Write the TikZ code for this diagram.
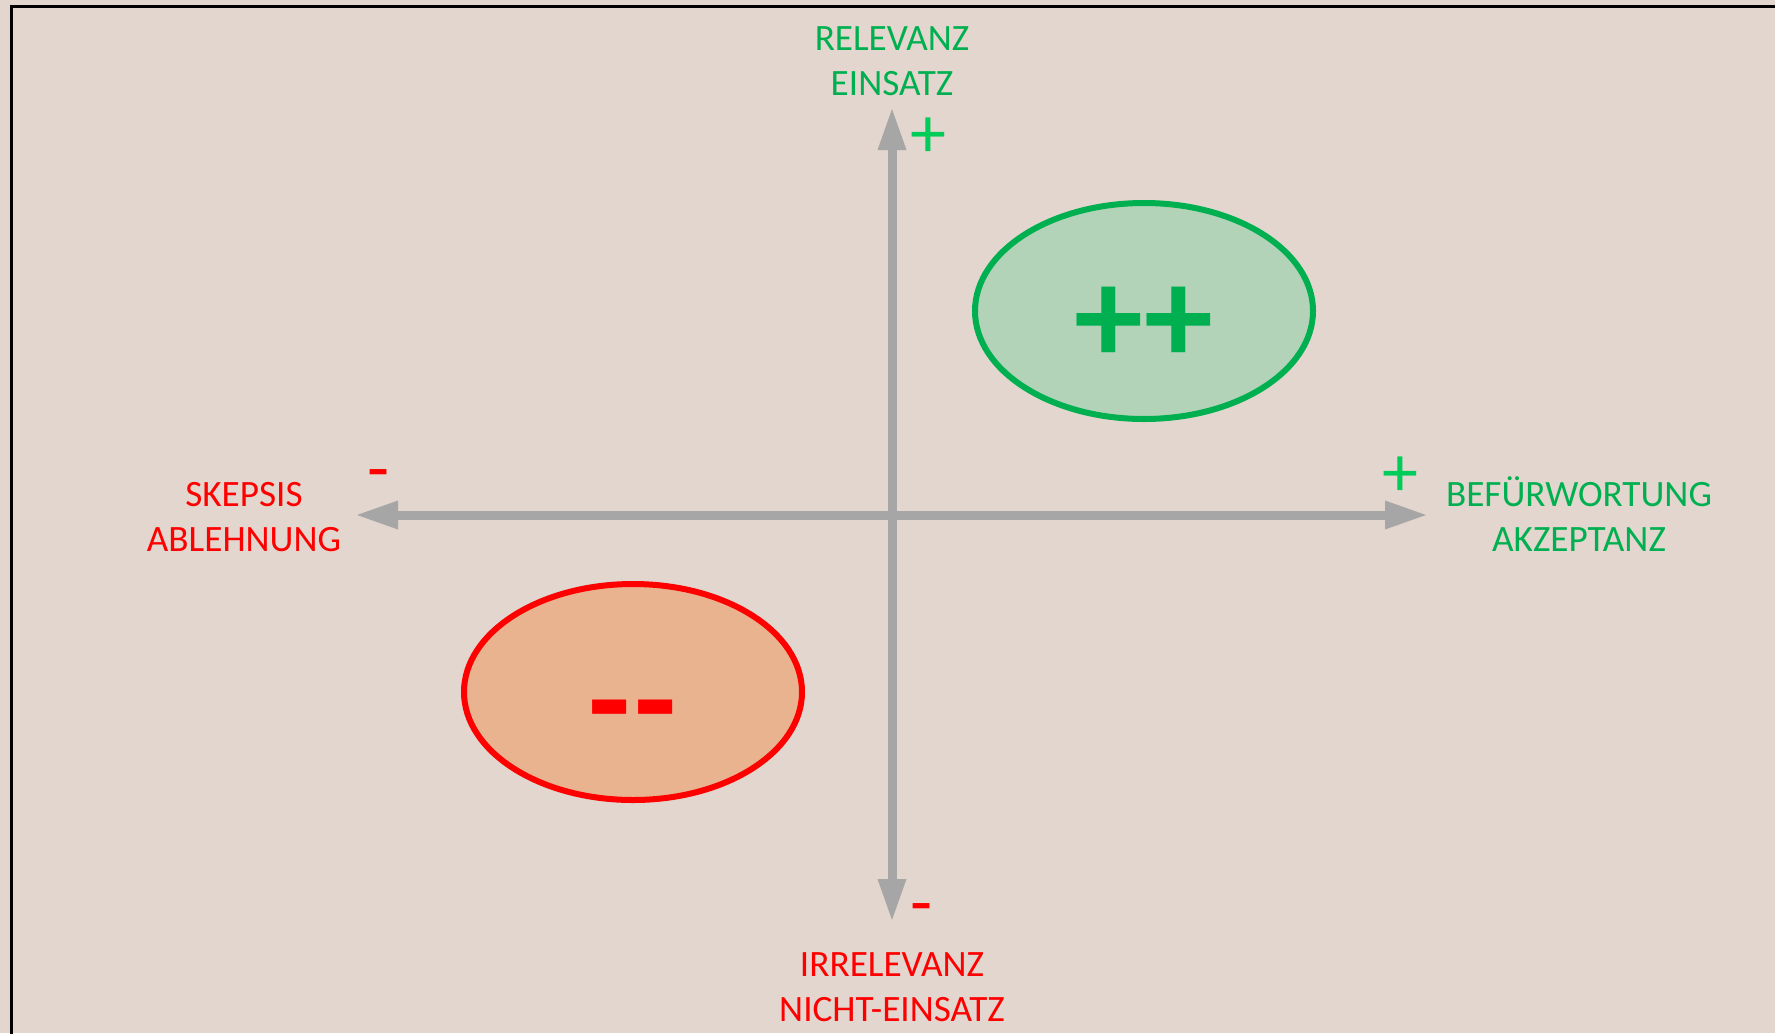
\documentclass[tikz,border=0pt]{standalone}
\usepackage{fontspec}
\setmainfont{Carlito}
\usetikzlibrary{arrows.meta,shapes.geometric}
\definecolor{bg}{RGB}{226,214,206}
\definecolor{txtgreen}{RGB}{0,176,80}
\definecolor{signgreen}{RGB}{0,204,90}
\definecolor{axisgray}{RGB}{166,166,166}
\definecolor{greenfill}{RGB}{179,211,185}
\definecolor{redfill}{RGB}{234,179,143}
\definecolor{myred}{RGB}{255,0,0}
\begin{document}
\begin{tikzpicture}[x=0.5pt,y=-0.5pt,
  lbl/.style={align=center,font=\fontsize{18.6pt}{22.3pt}\selectfont, inner sep=0pt},
  sign/.style={font=\fontsize{36pt}{36pt}\selectfont, inner sep=0pt},
  bigsign/.style={font=\bfseries\fontsize{69pt}{69pt}\selectfont, inner sep=0pt},
  axis/.style={draw=axisgray, line width=4.5pt, {Triangle[length=21.5pt,width=13pt]}-{Triangle[length=21.5pt,width=13pt]}},
  zone/.style={ellipse, minimum width=169pt, minimum height=108pt, line width=3pt, inner sep=0pt}
]
\useasboundingbox (0,0) rectangle (1775,1033);
\fill[bg] (0,0) rectangle (1775,1033);
\draw[line width=1.5pt] (11,6) rectangle (1800,1060);

% axes
\coordinate (L) at (355,515);
\coordinate (R) at (1428,515);
\coordinate (T) at (892,107);
\coordinate (B) at (892,922);
\draw[axis] (L) -- (R);
\draw[axis] (T) -- (B);

% zones
\node[zone, draw=txtgreen, fill=greenfill] (pp) at (1144,311) {};
\node[zone, draw=myred, fill=redfill] (mm) at (633,692) {};
\node[bigsign, text=txtgreen] (pptext) at (1144,325) {++};
\node[bigsign, text=myred] (mmtext) at (633,723) {{-}\kern2pt{-}};

% labels
\node[lbl, text=txtgreen] (top) at (892,61) {RELEVANZ\\EINSATZ};
\node[lbl, text=myred] (bottom) at (892,987) {IRRELEVANZ\\NICHT-EINSATZ};
\node[lbl, text=myred] (left) at (244,517) {SKEPSIS\\ABLEHNUNG};
\node[lbl, text=txtgreen] (right) at (1579,514) {BEFÜRWORTUNG\\AKZEPTANZ};

% signs
\node[sign, text=signgreen] (tplus) at (928,138) {+};
\node[sign, text=signgreen] (rplus) at (1400,477) {+};
\node[sign, text=myred] (lminus) at (379,481) {-};
\node[sign, text=myred] (bminus) at (922,915) {-};
\end{tikzpicture}
\end{document}
